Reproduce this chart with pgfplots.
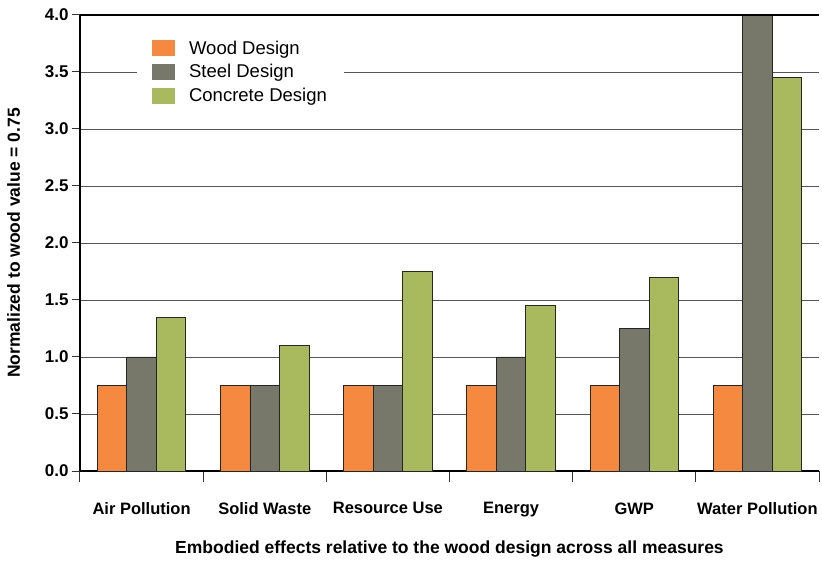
\documentclass[border=0pt]{standalone}
\usepackage{pgfplots}
\pgfplotsset{compat=1.18}
\usepackage{fontspec}
\setmainfont{Liberation Sans}
\definecolor{woodc}{HTML}{F4893F}
\definecolor{steelc}{HTML}{78786A}
\definecolor{concc}{HTML}{A9B95D}
\definecolor{gridc}{HTML}{555555}
\begin{document}
\begin{tikzpicture}
\begin{axis}[
  scale only axis,
  width=739pt, height=456pt,
  xmin=-0.5, xmax=5.5,
  ymin=0, ymax=4,
  ybar=0pt, bar width=29.5pt,
  axis x line*=bottom, axis y line*=left,
  axis line style={line width=1.8pt, -},
  xtick={0,1,2,3,4,5},
  xticklabels={Air Pollution, Solid Waste, Resource Use, Energy, GWP, Water Pollution},
  x tick label style={font=\fontsize{16.5}{19}\selectfont\bfseries, yshift=-20pt},
  minor xtick={-0.5,0.5,1.5,2.5,3.5,4.5,5.5},
  x tick style={draw=none},
  minor x tick style={draw=black!80, line width=1pt},
  minor tick length=11pt,
  ytick={0,0.5,...,4},
  y tick style={black!80, line width=1pt},
  major tick length=8pt,
  tick align=outside,
  y tick label style={font=\fontsize{17}{20}\selectfont\bfseries},
  /pgf/number format/.cd, fixed, fixed zerofill, precision=1, assume math mode=true, /pgfplots/.cd,
  ymajorgrids,
  grid style={gridc, line width=0.9pt},
  ylabel={Normalized to wood value = 0.75},
  ylabel style={font=\fontsize{17.5}{20}\selectfont\bfseries, yshift=18pt},
  xlabel={Embodied effects relative to the wood design across all measures},
  xlabel style={font=\fontsize{17.5}{20}\selectfont\bfseries, yshift=-17pt},
  legend style={at={(0.077,0.953)}, anchor=north west, draw=none, fill=white,
    font=\fontsize{18.5}{21}\selectfont, inner xsep=15pt, inner ysep=2pt,
    row sep=5pt, nodes={inner sep=2pt},
    /tikz/every odd column/.append style={column sep=12pt}},
  legend cell align=left,
  legend image code/.code={\fill[#1, draw=none] (0pt,-8pt) rectangle (23pt,8pt);},
  every axis plot/.append style={draw=black!85, line width=0.8pt},
]
\addplot[fill=woodc] coordinates {(0,0.75) (1,0.75) (2,0.75) (3,0.75) (4,0.75) (5,0.75)};
\addplot[fill=steelc] coordinates {(0,1.0) (1,0.75) (2,0.75) (3,1.0) (4,1.25) (5,4.0)};
\addplot[fill=concc] coordinates {(0,1.35) (1,1.1) (2,1.75) (3,1.45) (4,1.7) (5,3.45)};
\legend{Wood Design, Steel Design, Concrete Design}
\draw[black, line width=1.8pt] (rel axis cs:0,1) -- (rel axis cs:1,1);
\coordinate (O) at (rel axis cs:0,0);
\end{axis}
\pgfresetboundingbox
\path[use as bounding box] ([xshift=-80pt,yshift=-91pt]O) rectangle ([xshift=742pt,yshift=471pt]O);
\end{tikzpicture}
\end{document}
